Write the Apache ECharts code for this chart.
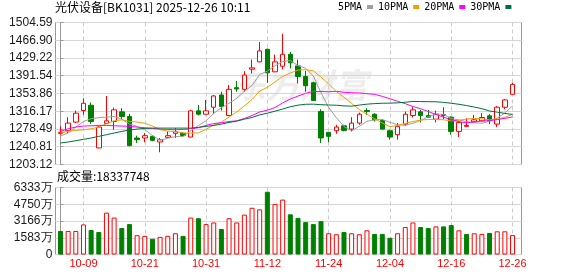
<!DOCTYPE html>
<html><head><meta charset="utf-8">
<script src="https://cdn.jsdelivr.net/npm/echarts@6/dist/echarts.min.js"></script>
<style>html,body{margin:0;padding:0;background:#fff}#c{width:578px;height:276px}</style>
</head><body><div id="c"></div>
<script>
const titleText = '光伏设备[BK1031] 2025-12-26 10:11';
const volTitle = '成交量:18337748';
const dates = ['09-26','09-29','09-30','10-09','10-10','10-13','10-14','10-15','10-16','10-17','10-20','10-21','10-22','10-23','10-24','10-27','10-28','10-29','10-30','10-31','11-03','11-04','11-05','11-06','11-07','11-10','11-11','11-12','11-13','11-14','11-17','11-18','11-19','11-20','11-21','11-24','11-25','11-26','11-27','11-28','12-01','12-02','12-03','12-04','12-05','12-08','12-09','12-10','12-11','12-12','12-15','12-16','12-17','12-18','12-19','12-22','12-23','12-24','12-25','12-26'];
const xTickLabels = ['10-09','10-21','10-31','11-12','11-24','12-04','12-16','12-26'];
const priceTicks = [1203.12,1240.81,1278.49,1316.17,1353.86,1391.54,1429.22,1466.90,1504.59];
const volTicks = [0,1583,3166,4750,6333];
const open  = [1269.2,1274.8,1293.1,1317.7,1328.9,1238.3,1290.3,1294.5,1314.9,1305.0,1259.4,1259.4,1262.9,1250.9,1260.8,1269.2,1269.2,1261.5,1317.0,1309.9,1324.7,1350.7,1307.1,1366.2,1362.7,1405.5,1421.0,1447.7,1399.9,1411.8,1437.1,1412.5,1390.0,1376.7,1315.6,1271.3,1274.8,1285.3,1278.3,1291.0,1317.7,1309.9,1296.6,1274.8,1266.4,1288.9,1307.1,1314.9,1307.1,1299.4,1307.1,1303.6,1273.4,1284.0,1293.8,1295.9,1306.4,1288.9,1324.7,1352.1];
const close = [1271.3,1291.0,1312.1,1333.1,1294.5,1282.6,1295.9,1319.1,1305.0,1243.2,1255.8,1264.3,1254.4,1255.8,1264.3,1272.7,1264.9,1317.0,1309.9,1317.0,1348.6,1326.1,1362.7,1363.4,1392.9,1408.3,1444.2,1397.8,1421.0,1437.1,1418.9,1390.0,1370.4,1338.8,1259.4,1262.9,1282.6,1275.5,1291.0,1309.9,1315.6,1298.0,1278.3,1261.5,1284.0,1309.9,1319.1,1307.1,1303.6,1309.9,1309.2,1273.4,1292.4,1286.1,1298.0,1302.9,1296.6,1324.7,1340.2,1373.2];
const low   = [1266.4,1269.9,1291.0,1308.5,1289.6,1237.6,1288.9,1276.9,1299.4,1241.8,1248.8,1250.2,1252.3,1229.1,1259.4,1259.4,1261.5,1260.8,1307.1,1309.2,1309.9,1317.7,1306.4,1357.7,1357.7,1396.4,1420.3,1376.7,1399.2,1404.8,1406.9,1375.3,1357.7,1338.1,1248.8,1250.2,1268.5,1273.4,1273.4,1287.5,1308.5,1294.5,1276.9,1255.8,1255.8,1285.3,1302.9,1292.4,1302.9,1292.4,1299.4,1266.4,1261.5,1282.6,1292.4,1294.5,1288.9,1282.6,1320.5,1351.4];
const high  = [1284.0,1303.6,1317.7,1343.7,1334.6,1285.3,1348.6,1324.0,1322.6,1310.6,1264.3,1269.9,1264.9,1259.4,1273.4,1280.4,1271.9,1319.1,1329.6,1340.2,1350.7,1357.7,1371.8,1380.2,1401.3,1425.9,1463.1,1449.1,1436.4,1480.7,1442.1,1425.9,1402.0,1378.8,1320.5,1271.9,1287.5,1287.5,1303.6,1313.4,1322.6,1312.1,1299.4,1276.9,1291.0,1315.6,1324.7,1319.1,1319.1,1317.7,1324.7,1305.0,1294.5,1301.5,1308.5,1312.1,1309.9,1327.5,1342.3,1376.7];
const firstPrevClose = 1280.0;
const ma5  = [1263.6,1269.9,1282.6,1294.5,1300.4,1302.7,1303.6,1305.0,1299.4,1289.2,1283.8,1277.5,1264.5,1254.7,1258.9,1262.3,1262.4,1274.9,1285.8,1296.3,1311.5,1323.7,1332.9,1343.6,1358.7,1370.7,1394.3,1401.3,1412.8,1421.7,1423.8,1413.0,1407.5,1391.0,1355.5,1324.3,1302.8,1283.8,1274.3,1284.4,1294.9,1298.0,1298.6,1292.7,1287.5,1286.3,1290.6,1296.3,1304.7,1309.9,1309.8,1300.6,1297.7,1294.2,1291.8,1290.6,1295.2,1301.7,1312.5,1327.5];
const ma10 = [1269.9,1273.4,1275.5,1276.9,1279.0,1282.6,1289.6,1295.9,1298.0,1294.8,1293.2,1290.6,1284.8,1277.1,1274.0,1273.1,1270.0,1269.7,1270.2,1277.6,1286.9,1293.1,1303.9,1314.7,1327.5,1341.1,1359.0,1367.1,1378.2,1390.2,1397.2,1403.6,1404.4,1401.9,1388.6,1374.1,1357.9,1345.7,1332.7,1319.9,1309.6,1300.4,1291.2,1283.5,1285.9,1290.6,1294.3,1297.4,1298.7,1298.7,1298.1,1295.6,1297.0,1299.5,1300.9,1300.2,1297.9,1299.7,1303.3,1309.7];
const ma20 = [1273.4,1279.0,1282.6,1284.7,1285.3,1286.1,1286.1,1285.3,1284.7,1284.0,1282.6,1281.2,1279.7,1278.3,1277.6,1276.9,1277.6,1279.0,1281.2,1286.2,1290.1,1291.8,1294.3,1295.9,1300.8,1307.1,1314.5,1318.4,1324.2,1333.9,1342.1,1348.4,1354.2,1358.3,1358.1,1357.6,1358.5,1356.4,1355.4,1355.1,1353.4,1352.0,1347.8,1342.7,1337.3,1332.3,1326.1,1321.6,1315.7,1309.3,1303.8,1298.0,1294.1,1291.5,1293.4,1295.4,1296.1,1298.6,1301.0,1304.2];
const ma30 = [1248.8,1250.9,1253.7,1256.5,1259.4,1262.9,1266.4,1269.9,1273.4,1276.2,1278.3,1279.7,1280.4,1280.4,1280.4,1280.4,1280.4,1280.4,1281.9,1284.0,1286.1,1288.9,1292.4,1295.2,1299.4,1302.9,1308.5,1312.1,1316.3,1320.9,1325.8,1329.1,1331.0,1331.2,1330.1,1329.4,1329.0,1327.5,1327.0,1329.3,1331.2,1332.4,1333.2,1333.4,1334.0,1335.3,1337.1,1336.7,1336.5,1336.3,1335.0,1333.2,1330.9,1328.3,1325.1,1321.6,1316.7,1314.3,1311.6,1309.4];
const volume = [2224,2224,2224,2842,2317,2131,3954,3491,2502,2873,1823,1761,1483,1668,1761,2008,1761,3491,3429,2873,3027,2409,3429,3027,3769,4417,4263,5931,4788,5189,3800,3460,3058,2873,3151,2008,1915,2131,2008,1915,2286,1946,1946,1575,2008,2595,3027,2595,2502,2657,2657,2780,2286,1946,2008,1946,2039,2193,2193,1834];

const RED = '#ff0000', GREEN = '#008000';
const xTickIdx = xTickLabels.map(d => dates.indexOf(d));
const candleData = dates.map((d, i) => [i, open[i], close[i], low[i], high[i]]);
const volData = volume.map((v, i) => {
  const prev = i === 0 ? firstPrevClose : close[i - 1];
  const up = close[i] >= prev;
  return { value: [i, v], itemStyle: up ? { color: '#ffffff', borderColor: RED, borderWidth: 1 } : { color: GREEN, borderColor: GREEN, borderWidth: 1 } };
});
const ln = (arr) => arr.map((v, i) => [i, v]);
const XMIN = -0.651, XMAX = 60.17;
const labelFont = 'Liberation Sans';

const chart = echarts.init(document.getElementById('c'), null, { renderer: 'canvas' });
chart.setOption({
  animation: false,
  backgroundColor: '#ffffff',
  title: [
    { text: titleText, left: 55, top: 1, padding: 0, textStyle: { fontSize: 12, fontWeight: 'normal', color: '#000', fontFamily: 'Noto Sans CJK SC' } },
    { text: volTitle, left: 57, top: 170, padding: 0, textStyle: { fontSize: 12, fontWeight: 'normal', color: '#000', fontFamily: 'Noto Sans CJK SC' } }
  ],
  legend: {
    data: ['5PMA', '10PMA', '20PMA', '30PMA'], left: 338, top: 2, padding: 0,
    icon: 'rect', itemWidth: 6, itemHeight: 4, align: 'right', itemGap: 5,
    textStyle: { fontSize: 10, color: '#000', fontFamily: 'DejaVu Sans Mono' }
  },
  graphic: [{
    type: 'text', left: 232, top: 68, z: 0, silent: true,
    style: { text: '东方财富', font: 'italic bold 34px "Noto Sans CJK SC"', fill: 'rgba(0,0,0,0.07)' }
  }],
  grid: [
    { left: 55.5, top: 22.5, width: 466, height: 142, show: true, borderColor: '#999', borderWidth: 1, backgroundColor: 'transparent' },
    { left: 55.5, top: 187.5, width: 466, height: 67, show: true, borderColor: '#999', borderWidth: 1, backgroundColor: 'transparent' }
  ],
  xAxis: [
    { type: 'value', gridIndex: 0, min: XMIN, max: XMAX,
      axisLine: { show: false }, axisTick: { show: false, customValues: xTickIdx }, axisLabel: { show: false, customValues: xTickIdx },
      splitLine: { show: true, lineStyle: { color: '#cccccc', type: [4, 3], width: 1 } } },
    { type: 'value', gridIndex: 1, min: XMIN, max: XMAX,
      axisLine: { show: false }, axisTick: { show: false, customValues: xTickIdx },
      axisLabel: { show: true, customValues: xTickIdx, formatter: v => dates[Math.round(v)], color: RED, fontSize: 11, fontFamily: labelFont, margin: 4, showMinLabel: true, showMaxLabel: true, hideOverlap: false },
      splitLine: { show: true, lineStyle: { color: '#cccccc', type: [4, 3], width: 1 } } }
  ],
  yAxis: [
    { type: 'value', gridIndex: 0, min: 1203.12, max: 1504.59, scale: true,
      axisLine: { show: true, lineStyle: { color: '#999' } },
      axisTick: { show: true, inside: true, length: 3, customValues: priceTicks, lineStyle: { color: '#999' } },
      axisLabel: { customValues: priceTicks, formatter: v => v.toFixed(2), color: '#1a1a1a', fontSize: 12, fontFamily: labelFont, margin: 3, showMinLabel: true, showMaxLabel: true, hideOverlap: false },
      splitLine: { show: true, lineStyle: { color: '#d6d6d6', width: 1 } } },
    { type: 'value', gridIndex: 1, min: 0, max: 6333,
      axisLine: { show: true, lineStyle: { color: '#999' } },
      axisTick: { show: true, inside: true, length: 3, customValues: volTicks, lineStyle: { color: '#999' } },
      axisLabel: { customValues: volTicks, formatter: v => v === 0 ? '0' : v + '万', color: '#1a1a1a', fontSize: 12, fontFamily: labelFont, margin: 3, showMinLabel: true, showMaxLabel: true, hideOverlap: false },
      splitLine: { show: true, lineStyle: { color: '#d6d6d6', width: 1 } } }
  ],
  series: [
    { name: 'K', type: 'candlestick', xAxisIndex: 0, yAxisIndex: 0, barWidth: 5, data: candleData, z: 3,
      itemStyle: { color: '#ffffff', color0: GREEN, borderColor: RED, borderColor0: GREEN, borderWidth: 1 } },
    { name: '5PMA', type: 'line', xAxisIndex: 0, yAxisIndex: 0, data: ln(ma5), showSymbol: false, symbol: 'none', color: '#a0a0a0', lineStyle: { width: 1, color: '#a0a0a0' }, z: 4 },
    { name: '10PMA', type: 'line', xAxisIndex: 0, yAxisIndex: 0, data: ln(ma10), showSymbol: false, symbol: 'none', color: '#f0a000', lineStyle: { width: 1, color: '#f0a000' }, z: 4 },
    { name: '20PMA', type: 'line', xAxisIndex: 0, yAxisIndex: 0, data: ln(ma20), showSymbol: false, symbol: 'none', color: '#ff00ff', lineStyle: { width: 1, color: '#ff00ff' }, z: 4 },
    { name: '30PMA', type: 'line', xAxisIndex: 0, yAxisIndex: 0, data: ln(ma30), showSymbol: false, symbol: 'none', color: '#00703a', lineStyle: { width: 1, color: '#00703a' }, z: 4 },
    { name: 'VOL', type: 'bar', xAxisIndex: 1, yAxisIndex: 1, barWidth: 5, data: volData }
  ]
});
</script></body></html>
